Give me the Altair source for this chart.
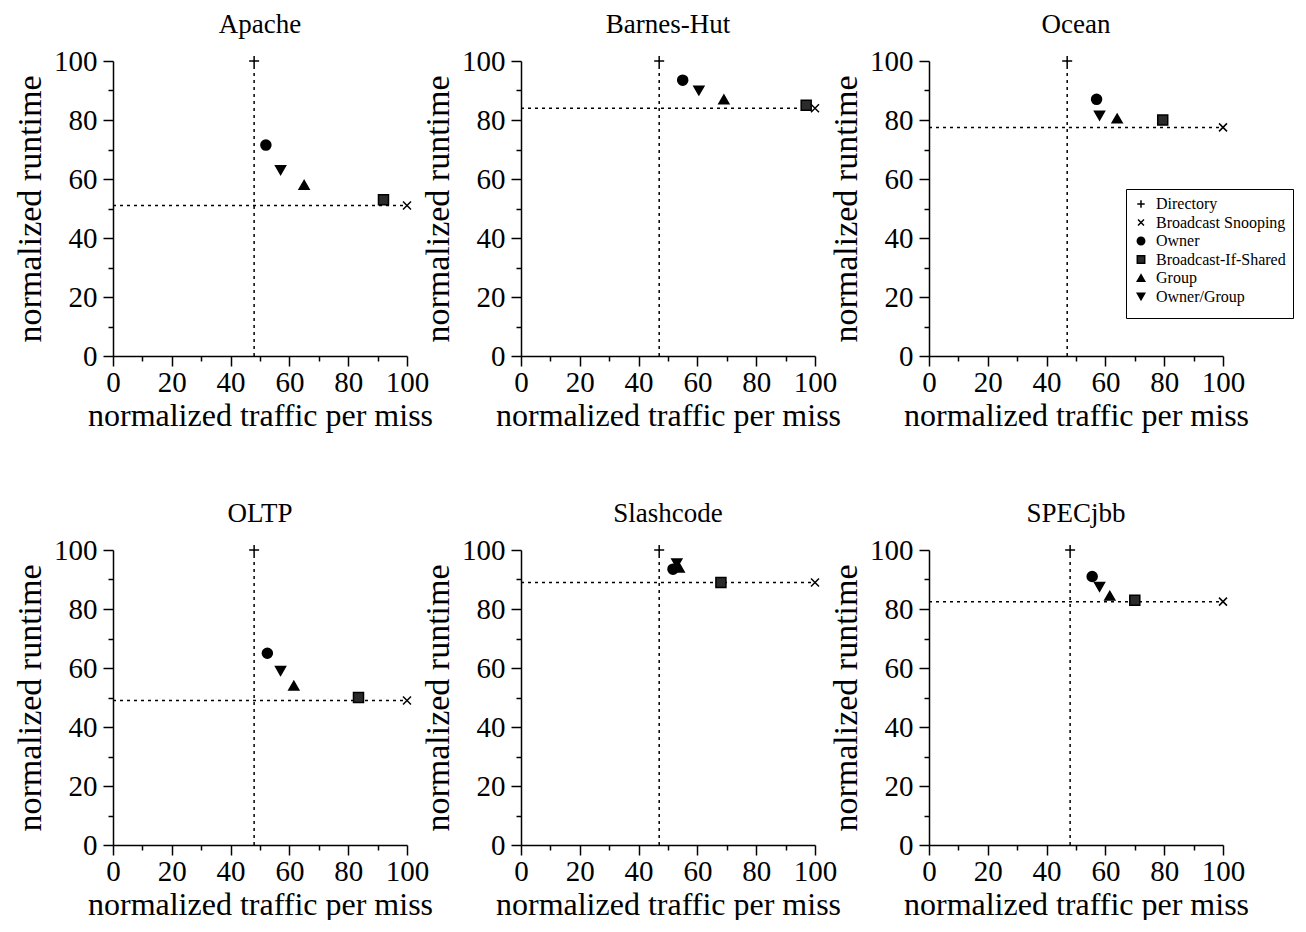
import altair as alt
import pandas as pd

benchmarks = ["Apache", "Barnes-Hut", "Ocean", "OLTP", "Slashcode", "SPECjbb"]
protocols = ["Directory", "Broadcast Snooping", "Owner", "Broadcast-If-Shared", "Group", "Owner/Group"]

# values per benchmark, in the order of `protocols`
apache_traffic = [48, 100, 52, 92, 65, 57]
apache_runtime = [100, 51, 71.5, 53, 58, 63]
barnes_traffic = [47, 100, 55, 97, 69, 60.5]
barnes_runtime = [100, 84, 93.5, 85, 87, 90]
ocean_traffic = [47, 100, 57, 79.5, 64, 58]
ocean_runtime = [100, 77.5, 87, 80, 80.5, 81.5]
oltp_traffic = [48, 100, 52.5, 83.5, 61.5, 57]
oltp_runtime = [100, 49, 65, 50, 54, 59]
slash_traffic = [47, 100, 51.7, 68, 53.8, 53]
slash_runtime = [100, 89, 93.5, 89, 94, 95.5]
specjbb_traffic = [48, 100, 55.5, 70, 61.5, 58]
specjbb_runtime = [100, 82.5, 91, 83, 84.5, 87.5]

traffic = [apache_traffic, barnes_traffic, ocean_traffic, oltp_traffic, slash_traffic, specjbb_traffic]
runtime = [apache_runtime, barnes_runtime, ocean_runtime, oltp_runtime, slash_runtime, specjbb_runtime]

rows = []
for b, tr, rt in zip(benchmarks, traffic, runtime):
    for p, t, r in zip(protocols, tr, rt):
        rows.append({"bench": b, "protocol": p, "traffic": t, "runtime": r})
df = pd.DataFrame(rows)

FONT = "Liberation Serif"
tick_vals = list(range(0, 101, 10))
shape_range = [
    "M-1,0L1,0M0,-1L0,1",
    "M-0.8,-0.8L0.8,0.8M-0.8,0.8L0.8,-0.8",
    "circle",
    "square",
    "triangle-up",
    "triangle-down",
]
fill_range = ["black", "black", "black", "#2b2b2b", "black", "black"]
stroke_range = ["black"] * 6


def axis(title, title_size, label_pad, title_pad):
    return alt.Axis(
        values=tick_vals,
        labelExpr="datum.value % 20 == 0 ? datum.label : ''",
        tickSize={"condition": {"test": "datum.value % 20 == 0", "value": 10}, "value": 5},
        title=title,
        titleFont=FONT, titleFontSize=title_size, titleFontWeight="normal", titleColor="black",
        labelFont=FONT, labelFontSize=29, labelColor="black",
        labelPadding=label_pad, titlePadding=title_pad,
        domainColor="black", domainWidth=1.5, tickColor="black", tickWidth=1.5,
        grid=False, labelFlush=False, labelOverlap=False,
    )


SC = alt.Scale(domain=[0, 100], nice=False, zero=True)


def xe(field):
    return alt.X(f"{field}:Q", scale=SC, axis=axis("normalized traffic per miss", 32, 2, 3))


def ye(field):
    return alt.Y(f"{field}:Q", scale=SC, axis=axis("normalized runtime", 34, 6, 6))


def panel(name, show_legend):
    base = alt.Chart(df).transform_filter(alt.datum.bench == name).transform_calculate(zero="0")
    vline = base.transform_filter(alt.datum.protocol == "Directory").mark_rule(
        color="black", strokeWidth=1.5, strokeDash=[3, 4]
    ).encode(x=xe("traffic"), y=ye("zero"), y2="runtime:Q")
    hline = base.transform_filter(alt.datum.protocol == "Broadcast Snooping").mark_rule(
        color="black", strokeWidth=1.5, strokeDash=[3, 4]
    ).encode(y=ye("runtime"), x=xe("zero"), x2="traffic:Q")
    if show_legend:
        leg = alt.Legend(
            orient="none", legendX=197, legendY=128, title=" ", titleOrient="bottom",
            titleFontSize=6, titlePadding=0,
            strokeColor="black", fillColor="white", padding=7,
            labelFont=FONT, labelFontSize=16, labelColor="black", labelOffset=7,
            symbolSize=55, symbolStrokeWidth=1.5, symbolStrokeColor="black",
            symbolFillColor="black", rowPadding=2.5, cornerRadius=0,
        )
    else:
        leg = None
    pts = base.mark_point(filled=False, strokeWidth=1.5, size=100,
                          opacity=1, fillOpacity=1, strokeOpacity=1).encode(
        x=xe("traffic"), y=ye("runtime"),
        shape=alt.Shape("protocol:N", scale=alt.Scale(domain=protocols, range=shape_range), legend=leg),
        fill=alt.Fill("protocol:N", scale=alt.Scale(domain=protocols, range=fill_range), legend=leg),
        stroke=alt.Stroke("protocol:N", scale=alt.Scale(domain=protocols, range=stroke_range), legend=leg),
    )
    return alt.layer(vline, hline, pts).properties(
        width=294, height=295,
        title=alt.TitleParams(name, font=FONT, fontSize=27, fontWeight="normal", color="black",
                              frame="group", offset=8, anchor="middle"),
    )


chart = alt.concat(
    *[panel(b, b == "Ocean") for b in benchmarks],
    columns=3, spacing={"row": 194, "column": 114}, bounds="flush",
).resolve_scale(shape="independent", fill="independent", stroke="independent").properties(
    padding={"left": 5, "top": 3, "right": 0, "bottom": 0}, background="white"
).configure_view(stroke=None)

chart.save("out.html", embed_options={"renderer": "svg", "actions": False})
